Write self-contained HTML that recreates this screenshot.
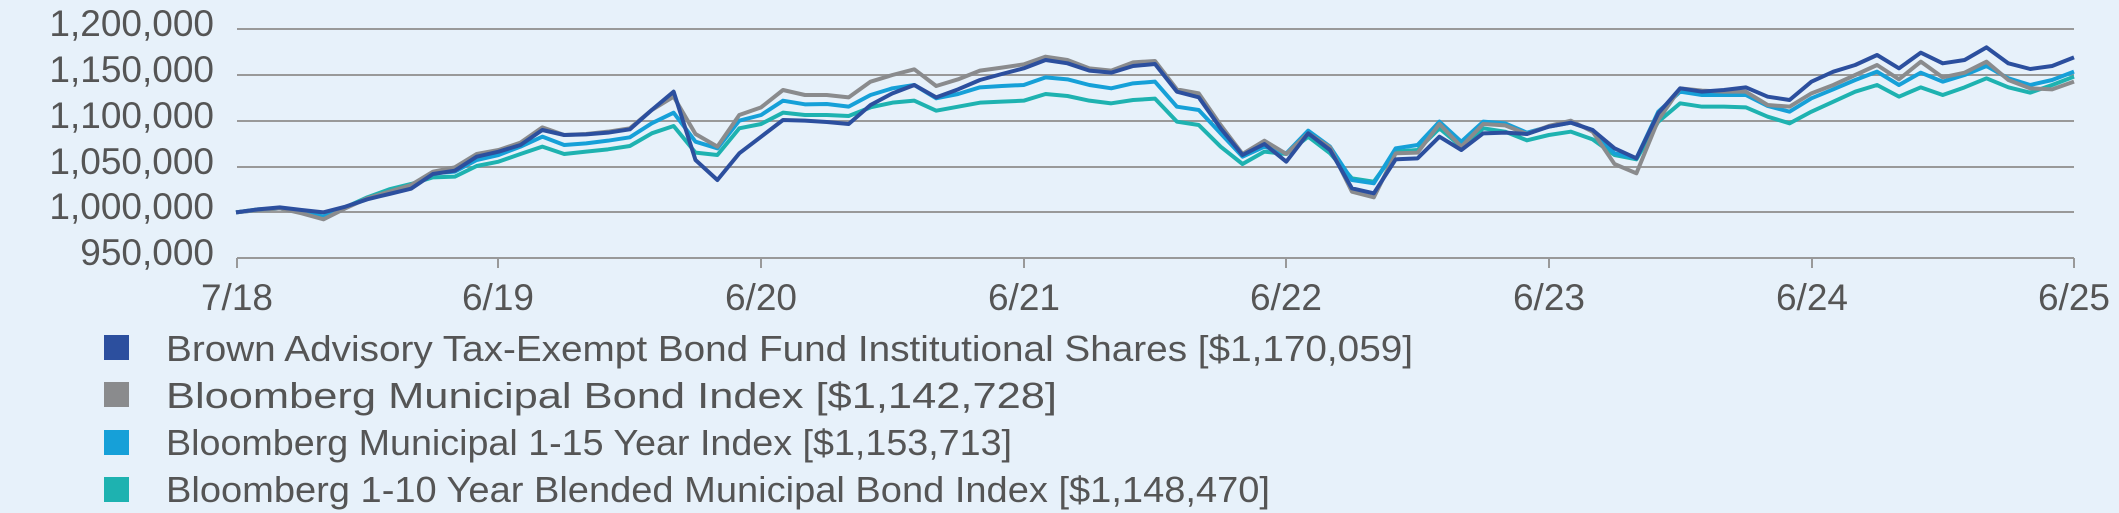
<!DOCTYPE html>
<html><head><meta charset="utf-8"><style>
html,body{margin:0;padding:0;background:#e7f1fa;}
svg{display:block;}
text{font-family:"Liberation Sans",sans-serif;fill:#555;}
</style></head><body>
<svg width="2119" height="513" viewBox="0 0 2119 513" xmlns="http://www.w3.org/2000/svg">
<rect width="2119" height="513" fill="#e7f1fa"/>
<g stroke="#999" stroke-width="2">
<line x1="237" y1="29" x2="2074" y2="29"/>
<line x1="237" y1="75" x2="2074" y2="75"/>
<line x1="237" y1="121" x2="2074" y2="121"/>
<line x1="237" y1="167" x2="2074" y2="167"/>
<line x1="237" y1="212" x2="2074" y2="212"/>
<line x1="237" y1="258" x2="2074" y2="258"/>
<line x1="237" y1="258" x2="237" y2="268"/>
<line x1="498" y1="258" x2="498" y2="268"/>
<line x1="761" y1="258" x2="761" y2="268"/>
<line x1="1024" y1="258" x2="1024" y2="268"/>
<line x1="1286" y1="258" x2="1286" y2="268"/>
<line x1="1549" y1="258" x2="1549" y2="268"/>
<line x1="1812" y1="258" x2="1812" y2="268"/>
<line x1="2074" y1="258" x2="2074" y2="268"/>
</g>
<g font-size="37" text-anchor="end">
<text x="214" y="36">1,200,000</text>
<text x="214" y="82">1,150,000</text>
<text x="214" y="128">1,100,000</text>
<text x="214" y="174">1,050,000</text>
<text x="214" y="219">1,000,000</text>
<text x="214" y="265">950,000</text>
</g>
<g font-size="37" text-anchor="middle">
<text x="237" y="310">7/18</text>
<text x="498" y="310">6/19</text>
<text x="761" y="310">6/20</text>
<text x="1024" y="310">6/21</text>
<text x="1286" y="310">6/22</text>
<text x="1549" y="310">6/23</text>
<text x="1812" y="310">6/24</text>
<text x="2074" y="310">6/25</text>
</g>
<g transform="translate(236,0) scale(21.881,0.33333)" fill="none" stroke-width="4" stroke-linejoin="round" vector-effect="non-scaling-stroke">
<polyline vector-effect="non-scaling-stroke" stroke="#1eb2b0" points="0,637 1,628 2,625 3,638 4,650 5,622 6,592 7,568 8,552 9,532 10,530 11,498 12,485 13,462 14,440 15,462 16,455 17,448 18,438 19,400 20,378 21,458 22,465 23,385 24,372 25,338 26,345 27,345 28,348 29,322 30,308 31,302 32,332 33,320 34,308 35,305 36,302 37,282 38,288 39,302 40,310 41,300 42,296 43,365 44,375 45,440 46,492 47,455 48,462 49,410 50,460 51,535 52,545 53,455 54,450 55,385 56,440 57,385 58,395 59,421 60,405 61,395 62,418 63,465 64,478 65,365 66,310 67,320 68,320 69,322 70,350 71,370 72,335 73,305 74,275 75,255 76,290 77,262 78,285 79,262 80,235 81,262 82,278 83,255 84,230"/>
<polyline vector-effect="non-scaling-stroke" stroke="#16a0d8" points="0,637 1,630 2,625 3,635 4,650 5,622 6,597 7,575 8,560 9,520 10,515 11,480 12,465 13,440 14,410 15,435 16,430 17,422 18,412 19,370 20,338 21,425 22,445 23,362 24,345 25,302 26,313 27,312 28,320 29,285 30,265 31,255 32,295 33,282 34,262 35,258 36,255 37,232 38,238 39,255 40,265 41,250 42,245 43,320 44,330 45,400 46,470 47,440 48,460 49,392 50,440 51,540 52,550 53,445 54,435 55,365 56,425 57,365 58,370 59,398 60,380 61,368 62,390 63,460 64,475 65,335 66,275 67,285 68,285 69,285 70,318 71,335 72,295 73,268 74,240 75,215 76,255 77,218 78,245 79,225 80,198 81,235 82,255 83,240 84,215"/>
<polyline vector-effect="non-scaling-stroke" stroke="#8a8b8d" points="0,637 1,630 2,625 3,640 4,658 5,625 6,595 7,575 8,555 9,515 10,502 11,462 12,450 13,428 14,382 15,405 16,402 17,395 18,385 19,330 20,290 21,402 22,440 23,345 24,322 25,270 26,285 27,285 28,292 29,245 30,225 31,208 32,258 33,238 34,212 35,203 36,193 37,170 38,180 39,205 40,212 41,187 42,183 43,268 44,280 45,375 46,462 47,422 48,462 49,400 50,442 51,575 52,592 53,460 54,458 55,372 56,440 57,372 58,376 59,402 60,378 61,362 62,395 63,492 64,520 65,360 66,265 67,272 68,275 69,275 70,315 71,320 72,280 73,255 74,225 75,195 76,238 77,185 78,232 79,218 80,185 81,240 82,265 83,268 84,245"/>
<polyline vector-effect="non-scaling-stroke" stroke="#2c4f9e" points="0,637 1,628 2,622 3,630 4,637 5,620 6,598 7,582 8,566 9,522 10,512 11,470 12,455 13,435 14,390 15,405 16,403 17,398 18,388 19,330 20,275 21,480 22,540 23,460 24,410 25,360 26,362 27,366 28,372 29,315 30,280 31,255 32,292 33,268 34,240 35,222 36,205 37,180 38,190 39,212 40,218 41,198 42,192 43,275 44,292 45,385 46,465 47,432 48,485 49,400 50,450 51,565 52,580 53,478 54,475 55,410 56,450 57,400 58,398 59,402 60,380 61,368 62,390 63,445 64,475 65,340 66,265 67,275 68,270 69,262 70,290 71,300 72,245 73,215 74,195 75,165 76,205 77,158 78,190 79,180 80,142 81,190 82,207 83,198 84,172"/>
</g>
<rect x="104" y="335" width="25" height="25" fill="#2c4f9e"/>
<rect x="104" y="382" width="25" height="25" fill="#8a8b8d"/>
<rect x="104" y="430" width="25" height="25" fill="#16a0d8"/>
<rect x="104" y="477" width="25" height="25" fill="#1eb2b0"/>
<g font-size="36">
<text x="166" y="361" textLength="1247" lengthAdjust="spacingAndGlyphs">Brown Advisory Tax-Exempt Bond Fund Institutional Shares [$1,170,059]</text>
<text x="166" y="408" textLength="891" lengthAdjust="spacingAndGlyphs">Bloomberg Municipal Bond Index [$1,142,728]</text>
<text x="166" y="455" textLength="846" lengthAdjust="spacingAndGlyphs">Bloomberg Municipal 1-15 Year Index [$1,153,713]</text>
<text x="166" y="502" textLength="1104" lengthAdjust="spacingAndGlyphs">Bloomberg 1-10 Year Blended Municipal Bond Index [$1,148,470]</text>
</g>
</svg>
</body></html>
